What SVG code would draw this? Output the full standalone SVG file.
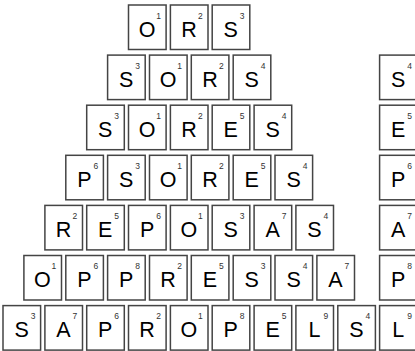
<svg xmlns="http://www.w3.org/2000/svg" width="415" height="351" viewBox="0 0 415 351">
<style>
.tb{fill:#fff;stroke:#444;stroke-width:1.5}
.t .l{font-family:"Liberation Sans",Arial,sans-serif;font-size:21.5px;fill:#000;text-anchor:middle}
.t .n{font-family:"Liberation Sans",Arial,sans-serif;font-size:8.5px;fill:#333;text-anchor:middle}
</style>
<defs>
<rect id="tile" class="tb" x="0" y="0" width="37.6" height="44.5" fill="#fff" stroke="#444" stroke-width="1.5"/>
</defs>
<rect width="415" height="351" fill="#fff"/>
<g id="row1">
<g id="r1c1" class="t" transform="translate(128.5,5)"><use href="#tile"/><text class="l" x="18.6" y="31.5">O</text><text class="n" x="30" y="13.5">1</text></g>
<g id="r1c2" class="t" transform="translate(170.4,5)"><use href="#tile"/><text class="l" x="18.6" y="31.5">R</text><text class="n" x="30" y="13.5">2</text></g>
<g id="r1c3" class="t" transform="translate(212.2,5)"><use href="#tile"/><text class="l" x="18.6" y="31.5">S</text><text class="n" x="30" y="13.5">3</text></g>
</g>
<g id="row2">
<g id="r2c1" class="t" transform="translate(107.6,55.1)"><use href="#tile"/><text class="l" x="18.6" y="31.5">S</text><text class="n" x="30" y="13.5">3</text></g>
<g id="r2c2" class="t" transform="translate(149.5,55.1)"><use href="#tile"/><text class="l" x="18.6" y="31.5">O</text><text class="n" x="30" y="13.5">1</text></g>
<g id="r2c3" class="t" transform="translate(191.3,55.1)"><use href="#tile"/><text class="l" x="18.6" y="31.5">R</text><text class="n" x="30" y="13.5">2</text></g>
<g id="r2c4" class="t" transform="translate(233.2,55.1)"><use href="#tile"/><text class="l" x="18.6" y="31.5">S</text><text class="n" x="30" y="13.5">4</text></g>
</g>
<g id="row3">
<g id="r3c1" class="t" transform="translate(86.7,105.2)"><use href="#tile"/><text class="l" x="18.6" y="31.5">S</text><text class="n" x="30" y="13.5">3</text></g>
<g id="r3c2" class="t" transform="translate(128.5,105.2)"><use href="#tile"/><text class="l" x="18.6" y="31.5">O</text><text class="n" x="30" y="13.5">1</text></g>
<g id="r3c3" class="t" transform="translate(170.4,105.2)"><use href="#tile"/><text class="l" x="18.6" y="31.5">R</text><text class="n" x="30" y="13.5">2</text></g>
<g id="r3c4" class="t" transform="translate(212.2,105.2)"><use href="#tile"/><text class="l" x="18.6" y="31.5">E</text><text class="n" x="30" y="13.5">5</text></g>
<g id="r3c5" class="t" transform="translate(254.1,105.2)"><use href="#tile"/><text class="l" x="18.6" y="31.5">S</text><text class="n" x="30" y="13.5">4</text></g>
</g>
<g id="row4">
<g id="r4c1" class="t" transform="translate(65.8,155.3)"><use href="#tile"/><text class="l" x="18.6" y="31.5">P</text><text class="n" x="30" y="13.5">6</text></g>
<g id="r4c2" class="t" transform="translate(107.6,155.3)"><use href="#tile"/><text class="l" x="18.6" y="31.5">S</text><text class="n" x="30" y="13.5">3</text></g>
<g id="r4c3" class="t" transform="translate(149.5,155.3)"><use href="#tile"/><text class="l" x="18.6" y="31.5">O</text><text class="n" x="30" y="13.5">1</text></g>
<g id="r4c4" class="t" transform="translate(191.3,155.3)"><use href="#tile"/><text class="l" x="18.6" y="31.5">R</text><text class="n" x="30" y="13.5">2</text></g>
<g id="r4c5" class="t" transform="translate(233.2,155.3)"><use href="#tile"/><text class="l" x="18.6" y="31.5">E</text><text class="n" x="30" y="13.5">5</text></g>
<g id="r4c6" class="t" transform="translate(275.0,155.3)"><use href="#tile"/><text class="l" x="18.6" y="31.5">S</text><text class="n" x="30" y="13.5">4</text></g>
</g>
<g id="row5">
<g id="r5c1" class="t" transform="translate(44.9,205.4)"><use href="#tile"/><text class="l" x="18.6" y="31.5">R</text><text class="n" x="30" y="13.5">2</text></g>
<g id="r5c2" class="t" transform="translate(86.7,205.4)"><use href="#tile"/><text class="l" x="18.6" y="31.5">E</text><text class="n" x="30" y="13.5">5</text></g>
<g id="r5c3" class="t" transform="translate(128.5,205.4)"><use href="#tile"/><text class="l" x="18.6" y="31.5">P</text><text class="n" x="30" y="13.5">6</text></g>
<g id="r5c4" class="t" transform="translate(170.4,205.4)"><use href="#tile"/><text class="l" x="18.6" y="31.5">O</text><text class="n" x="30" y="13.5">1</text></g>
<g id="r5c5" class="t" transform="translate(212.2,205.4)"><use href="#tile"/><text class="l" x="18.6" y="31.5">S</text><text class="n" x="30" y="13.5">3</text></g>
<g id="r5c6" class="t" transform="translate(254.1,205.4)"><use href="#tile"/><text class="l" x="18.6" y="31.5">A</text><text class="n" x="30" y="13.5">7</text></g>
<g id="r5c7" class="t" transform="translate(295.9,205.4)"><use href="#tile"/><text class="l" x="18.6" y="31.5">S</text><text class="n" x="30" y="13.5">4</text></g>
</g>
<g id="row6">
<g id="r6c1" class="t" transform="translate(23.9,255.5)"><use href="#tile"/><text class="l" x="18.6" y="31.5">O</text><text class="n" x="30" y="13.5">1</text></g>
<g id="r6c2" class="t" transform="translate(65.8,255.5)"><use href="#tile"/><text class="l" x="18.6" y="31.5">P</text><text class="n" x="30" y="13.5">6</text></g>
<g id="r6c3" class="t" transform="translate(107.6,255.5)"><use href="#tile"/><text class="l" x="18.6" y="31.5">P</text><text class="n" x="30" y="13.5">8</text></g>
<g id="r6c4" class="t" transform="translate(149.5,255.5)"><use href="#tile"/><text class="l" x="18.6" y="31.5">R</text><text class="n" x="30" y="13.5">2</text></g>
<g id="r6c5" class="t" transform="translate(191.3,255.5)"><use href="#tile"/><text class="l" x="18.6" y="31.5">E</text><text class="n" x="30" y="13.5">5</text></g>
<g id="r6c6" class="t" transform="translate(233.2,255.5)"><use href="#tile"/><text class="l" x="18.6" y="31.5">S</text><text class="n" x="30" y="13.5">3</text></g>
<g id="r6c7" class="t" transform="translate(275.0,255.5)"><use href="#tile"/><text class="l" x="18.6" y="31.5">S</text><text class="n" x="30" y="13.5">4</text></g>
<g id="r6c8" class="t" transform="translate(316.9,255.5)"><use href="#tile"/><text class="l" x="18.6" y="31.5">A</text><text class="n" x="30" y="13.5">7</text></g>
</g>
<g id="row7">
<g id="r7c1" class="t" transform="translate(3,305.6)"><use href="#tile"/><text class="l" x="18.6" y="31.5">S</text><text class="n" x="30" y="13.5">3</text></g>
<g id="r7c2" class="t" transform="translate(44.9,305.6)"><use href="#tile"/><text class="l" x="18.6" y="31.5">A</text><text class="n" x="30" y="13.5">7</text></g>
<g id="r7c3" class="t" transform="translate(86.7,305.6)"><use href="#tile"/><text class="l" x="18.6" y="31.5">P</text><text class="n" x="30" y="13.5">6</text></g>
<g id="r7c4" class="t" transform="translate(128.5,305.6)"><use href="#tile"/><text class="l" x="18.6" y="31.5">R</text><text class="n" x="30" y="13.5">2</text></g>
<g id="r7c5" class="t" transform="translate(170.4,305.6)"><use href="#tile"/><text class="l" x="18.6" y="31.5">O</text><text class="n" x="30" y="13.5">1</text></g>
<g id="r7c6" class="t" transform="translate(212.2,305.6)"><use href="#tile"/><text class="l" x="18.6" y="31.5">P</text><text class="n" x="30" y="13.5">8</text></g>
<g id="r7c7" class="t" transform="translate(254.1,305.6)"><use href="#tile"/><text class="l" x="18.6" y="31.5">E</text><text class="n" x="30" y="13.5">5</text></g>
<g id="r7c8" class="t" transform="translate(295.9,305.6)"><use href="#tile"/><text class="l" x="18.6" y="31.5">L</text><text class="n" x="30" y="13.5">9</text></g>
<g id="r7c9" class="t" transform="translate(337.8,305.6)"><use href="#tile"/><text class="l" x="18.6" y="31.5">S</text><text class="n" x="30" y="13.5">4</text></g>
</g>
<g id="rightcol">
<g id="k2" class="t" transform="translate(379.6,55.1)"><use href="#tile"/><text class="l" x="18.6" y="31.5">S</text><text class="n" x="30" y="13.5">4</text></g>
<g id="k3" class="t" transform="translate(379.6,105.2)"><use href="#tile"/><text class="l" x="18.6" y="31.5">E</text><text class="n" x="30" y="13.5">5</text></g>
<g id="k4" class="t" transform="translate(379.6,155.3)"><use href="#tile"/><text class="l" x="18.6" y="31.5">P</text><text class="n" x="30" y="13.5">6</text></g>
<g id="k5" class="t" transform="translate(379.6,205.4)"><use href="#tile"/><text class="l" x="18.6" y="31.5">A</text><text class="n" x="30" y="13.5">7</text></g>
<g id="k6" class="t" transform="translate(379.6,255.5)"><use href="#tile"/><text class="l" x="18.6" y="31.5">P</text><text class="n" x="30" y="13.5">8</text></g>
<g id="k7" class="t" transform="translate(379.6,305.6)"><use href="#tile"/><text class="l" x="18.6" y="31.5">L</text><text class="n" x="30" y="13.5">9</text></g>
</g>
</svg>
